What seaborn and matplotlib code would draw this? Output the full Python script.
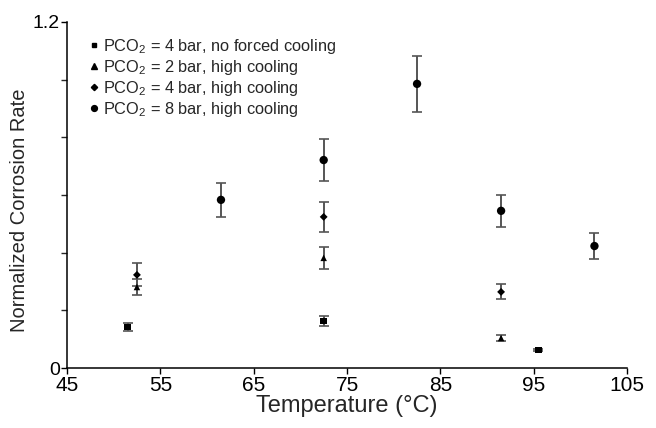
import numpy as np
import pandas as pd
import matplotlib
matplotlib.use("Agg")
import matplotlib.pyplot as plt
import seaborn as sns
from matplotlib.lines import Line2D

# Series: PCO2 = 4 bar, no forced cooling
t_4nf = [51.5, 72.5, 95.5]
r_4nf = [0.142, 0.163, 0.062]
e_4nf = [0.014, 0.017, 0.004]

# Series: PCO2 = 2 bar, high cooling
t_2hc = [52.5, 72.5, 91.5]
r_2hc = [0.281, 0.382, 0.104]
e_2hc = [0.028, 0.038, 0.010]

# Series: PCO2 = 4 bar, high cooling
t_4hc = [52.5, 72.5, 91.5]
r_4hc = [0.323, 0.524, 0.264]
e_4hc = [0.040, 0.052, 0.026]

# Series: PCO2 = 8 bar, high cooling
t_8hc = [61.5, 72.5, 82.5, 91.5, 101.5]
r_8hc = [0.583, 0.721, 0.985, 0.545, 0.423]
e_8hc = [0.059, 0.074, 0.097, 0.055, 0.045]

labels = [
    "PCO$_2$ = 4 bar, no forced cooling",
    "PCO$_2$ = 2 bar, high cooling",
    "PCO$_2$ = 4 bar, high cooling",
    "PCO$_2$ = 8 bar, high cooling",
]
x_ticks = [45, 55, 65, 75, 85, 95, 105]
markers = ["s", "^", "D", "o"]
sizes = [22, 22, 16, 36]

frames = []
for lab, t, r, e in zip(labels, [t_4nf, t_2hc, t_4hc, t_8hc],
                        [r_4nf, r_2hc, r_4hc, r_8hc],
                        [e_4nf, e_2hc, e_4hc, e_8hc]):
    frames.append(pd.DataFrame({"Temperature": t, "Rate": r, "Err": e, "Series": lab}))
df = pd.concat(frames, ignore_index=True)

sns.set_style("ticks")
plt.rcParams["font.family"] = ["Liberation Sans", "DejaVu Sans"]
plt.rcParams["mathtext.fontset"] = "custom"
plt.rcParams["mathtext.rm"] = "Liberation Sans"

fig = plt.figure(figsize=(6.56, 4.28), dpi=100)
ax = fig.add_axes([0.102, 0.14, 0.854, 0.809])

# error bars first, so markers sit on top
for lab in labels:
    sub = df[df["Series"] == lab]
    ax.errorbar(sub["Temperature"], sub["Rate"], yerr=sub["Err"], fmt="none",
                ecolor="#555555", elinewidth=1.4, capsize=3.5, capthick=1.2, zorder=2)

sns.scatterplot(data=df, x="Temperature", y="Rate", style="Series", size="Series",
                markers=dict(zip(labels, markers)), sizes=dict(zip(labels, sizes)),
                color="black", edgecolor="black", linewidth=0, ax=ax, zorder=3,
                legend=False)

# Legend with small markers
handles = [Line2D([], [], linestyle="none", marker=m, color="black", markersize=ms)
           for m, ms in zip(markers, [3.5, 3.8, 3.2, 4.2])]
leg = ax.legend(handles, labels, loc="upper left", bbox_to_anchor=(0.025, 0.985),
                frameon=False, fontsize=11.8, handlelength=0.4, handletextpad=0.35,
                labelspacing=0.12, borderaxespad=0.2)

ax.set_xlim(45, 105)
ax.set_ylim(0, 1.2)
ax.set_xticks(x_ticks)
ax.set_yticks([0, 1.2])
ax.set_yticklabels(["0", "1.2"])
ax.set_yticks(np.arange(0.2, 1.2, 0.2), minor=True)
ax.tick_params(axis="both", which="major", length=4, width=1, colors="black")
ax.tick_params(axis="x", labelsize=15, pad=2)
ax.tick_params(axis="y", labelsize=14, pad=1)
ax.tick_params(axis="y", which="minor", length=4, width=1)
ax.set_xlabel("Temperature (\u00b0C)", fontsize=17, labelpad=0)
ax.set_ylabel("Normalized Corrosion Rate", fontsize=14.5)
ax.yaxis.set_label_coords(-0.068, 0.455)
sns.despine(ax=ax)
for s in ["left", "bottom"]:
    ax.spines[s].set_color("black")
    ax.spines[s].set_linewidth(1.1)

fig.savefig("out.png", dpi=100)
